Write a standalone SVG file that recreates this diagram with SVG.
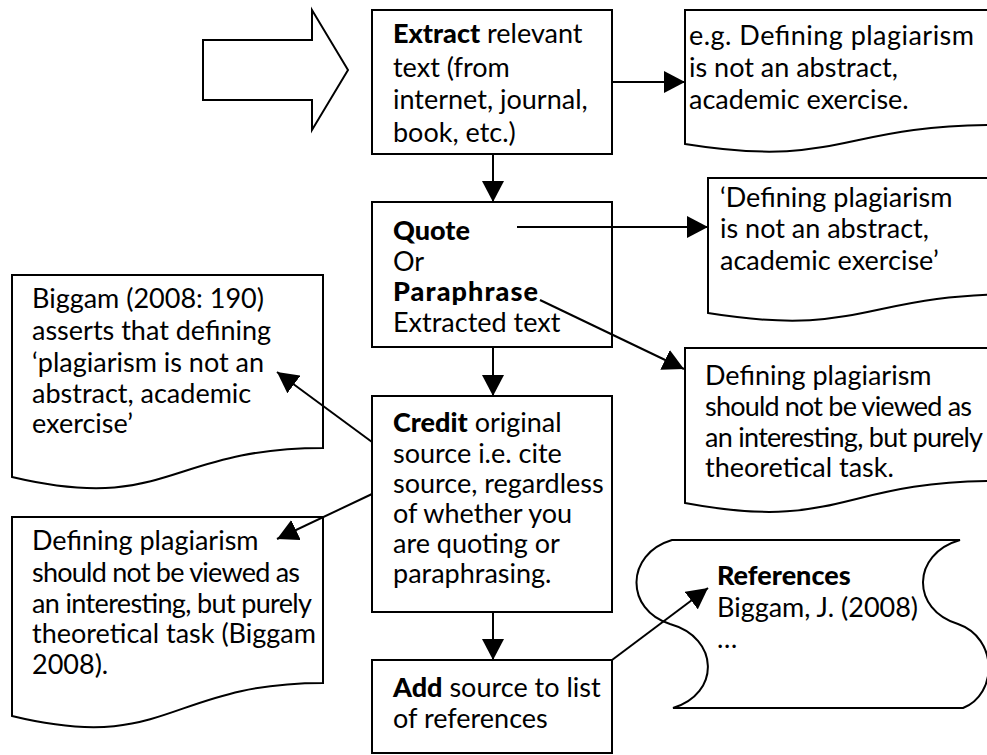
<svg xmlns="http://www.w3.org/2000/svg" width="987" height="755" viewBox="0 0 987 755">
  <style>
    .shape { fill: #fff; stroke: #000; stroke-width: 2; }
    .conn { fill: none; stroke: #000; stroke-width: 2; }
    text { font-family: Lato, "Open Sans", "DejaVu Sans", sans-serif; font-size: 27px; fill: #000; }
    .b { font-weight: 900; }
  </style>
  <defs>
    <marker id="head" markerUnits="userSpaceOnUse" markerWidth="22" markerHeight="22" refX="21" refY="11" orient="auto">
      <path d="M0,0 L21,11 L0,22 Z" fill="#000"/>
    </marker>
  </defs>

  <!-- entry block arrow -->
  <g id="start-arrow">
    <polygon class="shape" points="203,40 312,40 312,10 348,70 312,130 312,100 203,100"/>
  </g>

  <!-- process steps -->
  <g id="step-extract">
    <rect class="shape" x="372" y="10" width="240" height="144"/>
    <text x="393" y="43"><tspan class="b">Extract</tspan> relevant</text>
    <text x="393" y="77">text (from</text>
    <text x="393" y="109">internet, journal,</text>
    <text x="393" y="142">book, etc.)</text>
  </g>

  <g id="step-quote">
    <rect class="shape" x="372" y="202" width="240" height="145"/>
    <text x="393" y="240" class="b">Quote</text>
    <text x="393" y="271">Or</text>
    <text x="393" y="301" class="b" textLength="145">Paraphrase</text>
    <text x="393" y="332">Extracted text</text>
  </g>

  <g id="step-credit">
    <rect class="shape" x="372" y="396" width="240" height="216"/>
    <text x="393" y="432"><tspan class="b">Credit</tspan> original</text>
    <text x="393" y="463">source i.e. cite</text>
    <text x="393" y="493">source, regardless</text>
    <text x="393" y="523">of whether you</text>
    <text x="393" y="553">are quoting or</text>
    <text x="393" y="583">paraphrasing.</text>
  </g>

  <g id="step-add">
    <rect class="shape" x="372" y="660" width="240" height="93"/>
    <text x="393" y="697"><tspan class="b">Add</tspan> source to list</text>
    <text x="393" y="728">of references</text>
  </g>

  <!-- example documents -->
  <g id="doc-extract">
    <path class="shape" d="M685,10 H996 V125 C840,125 840,169 685,144 Z"/>
    <text x="689" y="45" textLength="285">e.g. Defining plagiarism</text>
    <text x="689" y="77">is not an abstract,</text>
    <text x="689" y="109">academic exercise.</text>
  </g>

  <g id="doc-quote">
    <path class="shape" d="M708,178 H1019 V294 C863,294 863,338 708,313 Z"/>
    <text x="720" y="207">‘Defining plagiarism</text>
    <text x="720" y="238">is not an abstract,</text>
    <text x="720" y="270">academic exercise’</text>
  </g>

  <g id="doc-paraphrase">
    <path class="shape" d="M685,348 H996 V481 C840,481 840,532 685,503 Z"/>
    <text x="705" y="385">Defining plagiarism</text>
    <text x="705" y="416" textLength="267">should not be viewed as</text>
    <text x="705" y="447" textLength="278">an interesting, but purely</text>
    <text x="705" y="477">theoretical task.</text>
  </g>

  <g id="doc-cite-quote">
    <path class="shape" d="M12,275 H323 V448 C168,448 168,514 12,477 Z"/>
    <text x="32" y="308">Biggam (2008: 190)</text>
    <text x="32" y="340">asserts that defining</text>
    <text x="32" y="372">‘plagiarism is not an</text>
    <text x="32" y="403">abstract, academic</text>
    <text x="32" y="433">exercise’</text>
  </g>

  <g id="doc-cite-paraphrase">
    <path class="shape" d="M12,517 H323 V683 C168,683 168,754 12,716 Z"/>
    <text x="32" y="550">Defining plagiarism</text>
    <text x="32" y="582" textLength="268">should not be viewed as</text>
    <text x="32" y="613" textLength="280">an interesting, but purely</text>
    <text x="32" y="643">theoretical task (Biggam</text>
    <text x="32" y="674">2008).</text>
  </g>

  <!-- reference list scroll -->
  <g id="references">
    <path class="shape" d="M672,540 H960 C911,554 911,610 958,624 C998,638 998,694 963,708 H673 C720,694 720,638 670,624 C625,610 625,554 672,540 Z"/>
    <text x="717" y="585" class="b">References</text>
    <text x="717" y="617">Biggam, J. (2008)</text>
    <text x="717" y="648">…</text>
  </g>

  <!-- connectors -->
  <g id="connectors">
    <line class="conn" x1="612" y1="82" x2="685" y2="82" marker-end="url(#head)"/>
    <line class="conn" x1="493" y1="154" x2="493" y2="202" marker-end="url(#head)"/>
    <line class="conn" x1="517" y1="227" x2="708" y2="227" marker-end="url(#head)"/>
    <line class="conn" x1="540" y1="300" x2="684" y2="369" marker-end="url(#head)"/>
    <line class="conn" x1="493" y1="347" x2="493" y2="396" marker-end="url(#head)"/>
    <line class="conn" x1="372" y1="442" x2="277" y2="372" marker-end="url(#head)"/>
    <line class="conn" x1="372" y1="494" x2="277" y2="539" marker-end="url(#head)"/>
    <line class="conn" x1="493" y1="612" x2="493" y2="660" marker-end="url(#head)"/>
    <line class="conn" x1="612" y1="660" x2="708" y2="588" marker-end="url(#head)"/>
  </g>
</svg>
